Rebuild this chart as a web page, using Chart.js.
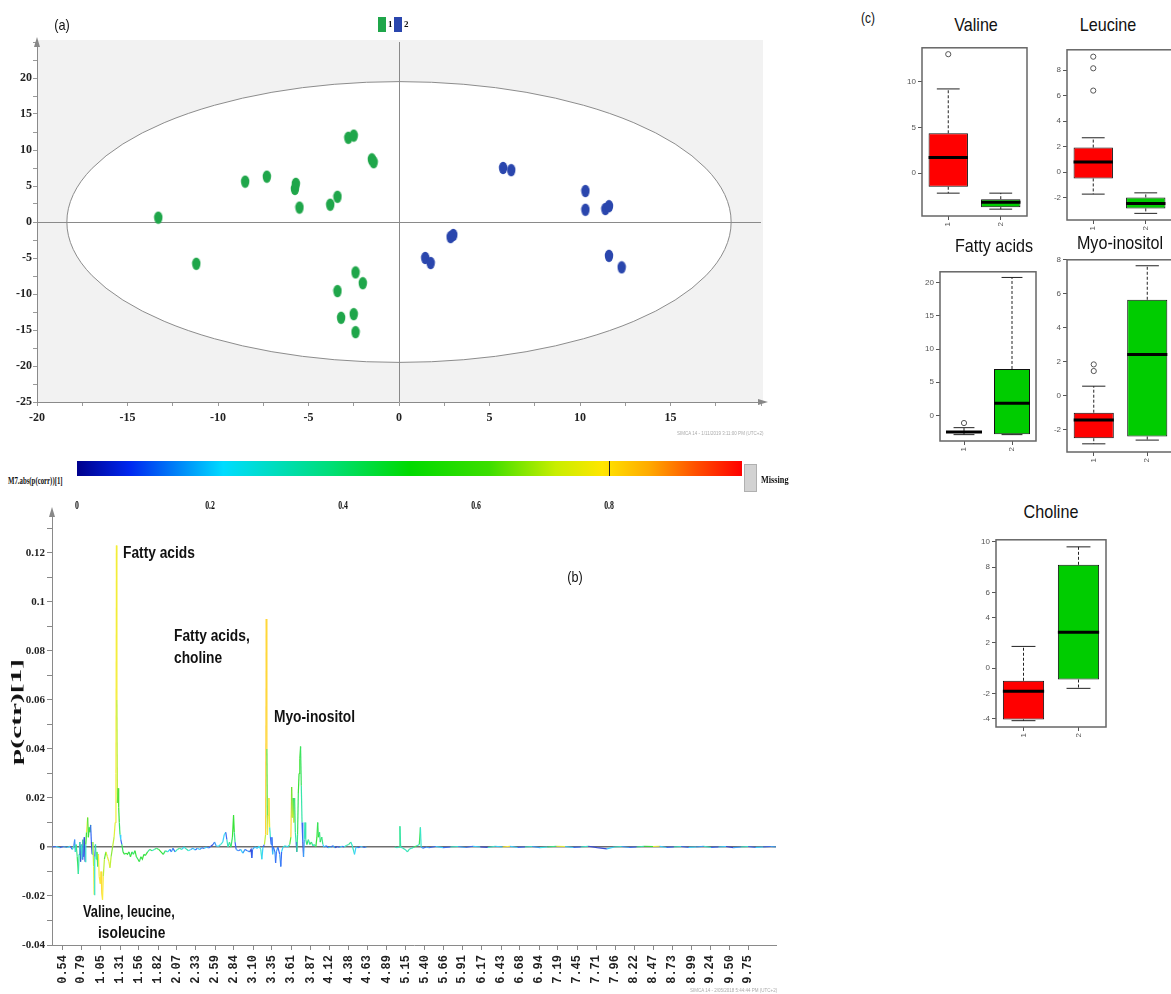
<!DOCTYPE html>
<html><head><meta charset="utf-8">
<script src="https://cdn.jsdelivr.net/npm/chart.js@4.4.1/dist/chart.umd.min.js"></script>
<style>
html,body{margin:0;padding:0;background:#fff;}
body{width:1171px;height:994px;overflow:hidden;position:relative;}
canvas{position:absolute;}
.t{position:absolute;white-space:nowrap;line-height:1;color:#111;}
.c{transform:translate(-50%,-50%) scaleX(var(--s,1));}
.l{transform-origin:0 50%;transform:translateY(-50%) scaleX(var(--s,1));}
.sans{font-family:'Liberation Sans',Arial,sans-serif;}
.bs{font-family:'Liberation Sans',Arial,sans-serif;font-weight:bold;}
.serif{font-family:'Liberation Serif','Times New Roman',serif;font-weight:bold;}
</style></head><body>
<canvas id="ca" width="780" height="440" style="left:0;top:0"></canvas>
<canvas id="cb" width="800" height="494" style="left:0;top:500px"></canvas>
<canvas id="bValine"></canvas>
<canvas id="bLeucine"></canvas>
<canvas id="bFatty"></canvas>
<canvas id="bMyo"></canvas>
<canvas id="bCholine"></canvas>

<div class="t c sans" style="left:62px;top:24px;font-size:15px;--s:0.85">(a)</div>
<div style="position:absolute;left:378px;top:17px;width:8px;height:15px;background:#1fa64a"></div>
<div class="t l serif" style="left:388px;top:24px;font-size:9px">1</div>
<div style="position:absolute;left:394px;top:17px;width:8px;height:15px;background:#2a46ad"></div>
<div class="t l serif" style="left:404px;top:24px;font-size:9px">2</div>
<div class="t l sans" style="left:677px;top:433px;font-size:6px;color:#aaa;--s:0.75">SIMCA 14 - 1/11/2019 3:11:00 PM (UTC+2)</div>

<div class="t c sans" style="left:868px;top:18px;font-size:14px;--s:0.85">(c)</div>
<div class="t c sans" style="left:976px;top:24px;font-size:19px;--s:0.85">Valine</div>
<div class="t c sans" style="left:1108px;top:24px;font-size:19px;--s:0.85">Leucine</div>
<div class="t c sans" style="left:994px;top:245px;font-size:19px;--s:0.85">Fatty acids</div>
<div class="t c sans" style="left:1120px;top:242px;font-size:19px;--s:0.85">Myo-inositol</div>
<div class="t c sans" style="left:1051px;top:511px;font-size:19px;--s:0.85">Choline</div>

<div id="cbar" style="position:absolute;left:77px;top:461px;width:665px;height:15px"></div>
<div style="position:absolute;left:609px;top:461px;width:1px;height:15px;background:#222"></div>
<div style="position:absolute;left:744px;top:464px;width:13px;height:28px;background:#d2d2d2;border:1px solid #b0b0b0;box-sizing:border-box"></div>
<div class="t l serif" style="left:761px;top:479px;font-size:11px;--s:0.75">Missing</div>
<div class="t l serif" style="left:8px;top:481px;font-size:10px;--s:0.68">M7.abs(p(corr))[1]</div>
<div id="cbticks"></div>

<div class="t c sans" style="left:575px;top:577px;font-size:14px;--s:0.9">(b)</div>
<div class="t serif" style="left:17px;top:712px;font-size:14px;transform:translate(-50%,-50%) rotate(-90deg) scaleX(2.1)">p(ctr)[1]</div>
<div class="t l bs" style="left:123px;top:553px;font-size:16px;--s:0.86">Fatty acids</div>
<div class="t l bs" style="left:174px;top:636px;font-size:16px;--s:0.86">Fatty acids,</div>
<div class="t l bs" style="left:174px;top:658px;font-size:16px;--s:0.86">choline</div>
<div class="t l bs" style="left:274px;top:717px;font-size:16px;--s:0.86">Myo-inositol</div>
<div class="t l bs" style="left:83px;top:912px;font-size:16px;--s:0.8">Valine, leucine,</div>
<div class="t l bs" style="left:98px;top:933px;font-size:16px;--s:0.86">isoleucine</div>
<div class="t l sans" style="left:690px;top:990px;font-size:6px;color:#aaa;--s:0.75">SIMCA 14 - 2/05/2018 5:44:44 PM (UTC+2)</div>

<script>
// ================= DATA =================
// (a) OPLS-DA score plot
const group1X = [-13.3,-11.2,-8.5,-7.3,-5.75,-5.7,-5.5,-3.8,-3.4,-2.8,-2.5,-1.5,-1.4,-2.4,-2.0,-3.4,-3.2,-2.5,-2.4];
const group1Y = [0.6,-5.8,5.6,6.3,4.6,5.3,2.0,2.4,3.5,11.7,12.0,8.7,8.3,-7.0,-8.5,-9.6,-13.3,-12.8,-15.3];
const group2X = [5.75,6.2,10.3,10.3,11.4,11.6,11.6,12.3,2.85,3.0,1.45,1.75];
const group2Y = [7.5,7.2,4.3,1.7,1.8,2.2,-4.7,-6.3,-2.1,-1.8,-5.0,-5.7];
const ellipseAxes = [18.35, 19.5];
const scoreXLabels = ['-20','-15','-10','-5','0','5','10','15'];
const scoreYLabels = ['20','15','10','5','0','-5','-10','-15','-20','-25'];

// (b) colour bar + loading line plot
const colorbarLabels = ['0','0.2','0.4','0.6','0.8'];
const ppmLabels = ['0.54','0.79','1.05','1.31','1.56','1.82','2.07','2.33','2.59','2.84','3.10','3.35','3.61','3.87','4.12','4.38','4.63','4.89','5.15','5.40','5.66','5.91','6.17','6.43','6.68','6.94','7.19','7.45','7.71','7.96','8.22','8.47','8.73','8.99','9.24','9.50','9.75'];
const loadingYLabels = ['0.12','0.1','0.08','0.06','0.04','0.02','0','-0.02','-0.04'];

const spectrumPpm = [
0.40,0.45,0.50,0.55,0.60,0.64,0.67,0.69,0.70,0.71,
0.72,0.735,0.75,0.76,0.77,0.78,0.79,0.80,0.81,0.82,
0.83,0.84,0.85,0.86,0.875,0.885,0.895,0.905,0.915,0.925,
0.935,0.945,0.955,0.962,0.97,0.98,0.99,1.00,1.01,1.02,
1.03,1.045,1.055,1.065,1.075,1.085,1.10,1.12,1.14,1.16,
1.175,1.19,1.21,1.23,1.245,1.255,1.262,1.268,1.275,1.285,
1.292,1.30,1.31,1.32,1.335,1.35,1.37,1.39,1.41,1.43,
1.45,1.47,1.49,1.51,1.53,1.55,1.57,1.59,1.61,1.63,
1.65,1.68,1.71,1.74,1.77,1.80,1.83,1.86,1.89,1.92,
1.95,1.98,2.00,2.02,2.05,2.08,2.11,2.14,2.17,2.20,
2.23,2.26,2.29,2.32,2.35,2.38,2.41,2.44,2.47,2.50,
2.53,2.56,2.58,2.60,2.63,2.66,2.69,2.71,2.73,2.745,
2.76,2.78,2.80,2.82,2.835,2.845,2.855,2.87,2.90,2.93,
2.96,2.99,3.02,3.05,3.07,3.08,3.09,3.12,3.15,3.18,
3.20,3.215,3.23,3.25,3.265,3.275,3.283,3.29,3.30,3.31,
3.32,3.33,3.34,3.35,3.36,3.37,3.39,3.40,3.41,3.43,
3.455,3.47,3.48,3.50,3.53,3.56,3.59,3.605,3.615,3.625,
3.635,3.645,3.655,3.665,3.675,3.685,3.695,3.705,3.715,3.725,
3.735,3.745,3.755,3.765,3.775,3.785,3.795,3.805,3.82,3.84,
3.86,3.88,3.90,3.92,3.94,3.955,3.965,3.975,3.99,4.00,
4.02,4.035,4.05,4.08,4.11,4.14,4.17,4.20,4.23,4.26,
4.29,4.32,4.35,4.38,4.41,4.43,4.46,4.48,4.51,4.54,
4.57,4.60,4.62,4.80,5.00,5.03,5.06,5.07,5.08,5.11,
5.14,5.17,5.20,5.23,5.26,5.30,5.33,5.345,5.355,5.38,
5.42,5.46,5.55,5.65,5.75,5.85,5.95,6.05,6.15,6.25,
6.35,6.45,6.55,6.65,6.75,6.85,6.95,7.05,7.17,7.29,
7.40,7.50,7.60,7.72,7.85,7.95,8.05,8.15,8.25,8.35,
8.47,8.56,8.65,8.75,8.85,8.95,9.05,9.15,9.25,9.35,
9.45,9.55,9.65,9.75,9.85,9.95,10.05,10.12];
const spectrumValue = [
0,0.0002,-0.0003,0.0002,-0.0002,0.0003,-0.001,0.0005,0.003,-0.002,
0.001,-0.004,-0.011,-0.003,0.002,-0.006,0.001,-0.005,0.003,-0.004,
0.004,-0.006,0.001,0.006,0.012,0.004,0.008,0.006,0.009,0.002,
-0.003,0.002,-0.008,-0.0195,-0.004,0.001,-0.005,-0.002,-0.008,-0.003,
-0.012,-0.015,-0.01,-0.019,-0.0215,-0.012,-0.005,-0.002,-0.004,-0.006,
-0.0085,-0.004,0,0.004,0.010,0.03,0.123,0.06,0.018,0.024,
0.016,0.010,0.005,0.003,0.001,-0.002,-0.003,-0.0025,-0.003,-0.002,
-0.004,-0.002,-0.003,-0.0015,-0.004,-0.005,-0.006,-0.004,-0.005,-0.003,
-0.0035,-0.002,-0.001,-0.0015,-0.001,-0.0005,-0.001,-0.002,-0.003,-0.0015,
-0.002,-0.001,-0.002,-0.0005,-0.002,-0.001,-0.0005,-0.001,0,-0.0008,
-0.0015,-0.001,-0.0005,-0.0012,-0.0005,-0.001,-0.0003,-0.0006,0,-0.0004,
0.0003,0.001,0.002,0.0005,0.0002,0.001,0.002,0.005,0.006,0.003,
0,0.002,0,0.004,0.013,0.006,0.002,-0.001,-0.0015,-0.001,
-0.0025,-0.001,-0.0015,-0.002,-0.001,-0.0045,-0.001,0,-0.0005,0.0003,
-0.001,-0.005,0,0.001,0.005,0.093,0.04,0.005,0.013,0.02,
0.008,0.004,0.001,0.004,-0.003,0,-0.002,-0.0065,-0.002,0,
-0.003,-0.008,-0.002,0,0.0005,0,0.001,0.004,0.0245,0.012,
0.02,0.01,0.02,0.006,0.002,-0.002,0.005,0.022,0.03,0.036,
0.041,0.025,0.01,0.002,-0.004,0.003,0.01,0.003,0.001,0.003,
0.001,0.002,0.0005,0.001,0,0.004,0.010,0.004,0.006,0.002,
0.004,0.001,0,0.0005,-0.0003,0,0.0005,-0.0003,0.0002,-0.0002,
0.0003,0,0.0006,0.001,0.002,0.0005,-0.003,0,-0.0003,0.0002,
0,-0.0002,0,null,0,-0.0003,0,0.0085,0,-0.0005,
-0.001,-0.002,-0.0008,-0.0005,0,0.0005,0.001,0.008,0,-0.0005,
0,-0.0003,0.0002,-0.0003,0,0.0002,-0.0002,0.0003,0,-0.0002,
0.0003,0,0.0003,-0.0002,0,0.0002,-0.0003,0,0.0003,0.0002,
-0.0002,0,0.0003,-0.0003,-0.0008,0,0.0002,-0.0002,0,0.0003,
0.0002,0.0003,-0.0002,0,0.0002,-0.0002,0,0.0003,-0.0002,0,
0.0002,-0.0003,0,0.0002,-0.0002,0,0.0002,0];
const spectrumCorr = [
0.15,0.1,0.2,0.1,0.15,0.2,0.1,0.3,0.1,0.15,
0.3,0.4,0.45,0.35,0.1,0.35,0.05,0.3,0.1,0.4,
0.1,0.05,0.3,0.5,0.75,0.55,0.5,0.45,0.5,0.1,
0.05,0.3,0.7,0.76,0.3,0.1,0.35,0.3,0.6,0.4,
0.78,0.8,0.78,0.82,0.82,0.78,0.7,0.6,0.72,0.75,
0.76,0.7,0.65,0.7,0.74,0.77,0.78,0.77,0.7,0.6,
0.55,0.5,0.45,0.2,0.1,0.45,0.5,0.45,0.5,0.5,
0.45,0.5,0.4,0.45,0.5,0.45,0.5,0.45,0.5,0.5,
0.45,0.5,0.4,0.45,0.3,0.4,0.45,0.5,0.5,0.45,
0.35,0.2,0.1,0.15,0.1,0.3,0.4,0.35,0.2,0.3,
0.35,0.25,0.15,0.2,0.1,0.2,0.15,0.1,0.2,0.15,
0.1,0.05,0.1,0.15,0.2,0.25,0.3,0.2,0.25,0.1,
0.3,0.35,0.4,0.45,0.5,0.5,0.4,0.1,0.15,0.1,
0.2,0.15,0.1,0.15,0.05,0.05,0.1,0.15,0.2,0.2,
0.25,0.3,0.2,0.1,0.7,0.83,0.82,0.6,0.8,0.83,
0.75,0.3,0.1,0.15,0.1,0.2,0.1,0.15,0.1,0.15,
0.1,0.15,0.1,0.2,0.3,0.2,0.3,0.6,0.82,0.6,
0.7,0.45,0.78,0.4,0.35,0.1,0.4,0.45,0.5,0.52,
0.5,0.45,0.35,0.1,0.05,0.15,0.3,0.35,0.4,0.45,
0.35,0.45,0.4,0.3,0.35,0.5,0.5,0.45,0.5,0.4,
0.45,0.4,0.2,0.15,0.1,0.2,0.1,0.15,0.05,0.1,
0.2,0.1,0.3,0.35,0.4,0.3,0.3,0.2,0.15,0.1,
0.2,0.1,0.15,0.15,0.3,0.35,0.3,0.4,0.35,0.3,
0.35,0.3,0.35,0.3,0.35,0.45,0.3,0.45,0.3,0.15,
0.1,0.15,0.1,0.2,0.1,0.3,0.15,0.1,0.2,0.05,
0.3,0.2,0.78,0.2,0.1,0.3,0.15,0.25,0.4,0.75,
0.2,0.1,0.3,0.05,0.05,0.2,0.3,0.15,0.1,0.35,
0.5,0.75,0.2,0.1,0.3,0.1,0.2,0.15,0.3,0.1,
0.2,0.05,0.15,0.3,0.1,0.2,0.1,0.15];

// (c) box plots: each group = [lower whisker, Q1, median, Q3, upper whisker]
const boxGroups = ['1','2'];
const valineStats = [[-2.2,-1.5,1.7,4.35,9.2],[-3.95,-3.73,-3.2,-2.86,-2.2]];
const valineOutliers = [[13.0],[]];
const valineTicks = [0,5,10];
const leucineStats = [[-1.72,-0.49,0.8,1.93,2.7],[-3.23,-2.84,-2.45,-1.98,-1.62]];
const leucineOutliers = [[9.06,8.15,6.4],[]];
const leucineTicks = [-2,0,2,4,6,8];
const fattyStats = [[-2.9,-2.66,-2.5,-2.36,-1.85],[-2.9,-2.86,1.85,7.0,20.8]];
const fattyOutliers = [[-1.15],[]];
const fattyTicks = [0,5,10,15,20];
const myoStats = [[-2.82,-2.49,-1.42,-0.99,0.57],[-2.6,-2.39,2.43,5.65,7.65]];
const myoOutliers = [[1.85,1.46],[]];
const myoTicks = [-2,0,2,4,6,8];
const cholineStats = [[-4.16,-4.06,-1.82,-1.0,1.72],[-1.6,-0.9,2.85,8.18,9.6]];
const cholineOutliers = [[],[]];
const cholineTicks = [-4,-2,0,2,4,6,8,10];

// ================= STYLE HELPERS =================
const SERIF = "'Liberation Serif','Times New Roman',serif";
const SANS = "'Liberation Sans',Arial,sans-serif";
const cStops = [[0,[0,0,140]],[0.08,[0,40,240]],[0.22,[0,220,255]],[0.38,[0,222,120]],[0.5,[0,218,0]],[0.62,[60,222,0]],[0.72,[200,238,0]],[0.79,[255,230,0]],[0.86,[255,170,0]],[0.93,[255,80,0]],[1,[255,0,0]]];
function cmapRGB(v){
  v = Math.max(0, Math.min(1, v));
  for (let i = 1; i < cStops.length; i++) {
    if (v <= cStops[i][0]) {
      const a = cStops[i-1], b = cStops[i], f = (v - a[0]) / (b[0] - a[0]);
      return a[1].map((x, k) => x + (b[1][k] - x) * f);
    }
  }
  return [255,0,0];
}
// line colours: colour-bar colour slightly washed out, as in the rendered spectrum
function lineColor(v){
  const c = cmapRGB(v).map(x => Math.round(x * 0.78 + 255 * 0.22));
  return 'rgb(' + c.join(',') + ')';
}
document.getElementById('cbar').style.background =
  'linear-gradient(to right,' + cStops.map(s => 'rgb(' + s[1].join(',') + ') ' + (s[0]*100) + '%').join(',') + ')';
const cbt = document.getElementById('cbticks');
colorbarLabels.forEach(l => {
  const d = document.createElement('div');
  d.className = 't c serif';
  d.style.cssText = 'left:' + (77.3 + parseFloat(l) * 664.5) + 'px;top:505px;font-size:12px;--s:0.65';
  d.textContent = l;
  cbt.appendChild(d);
});
function stepTicks(a, b, s){ const r = []; for (let k = 0; a + k*s <= b + 1e-9; k++) r.push({value: a + k*s}); return r; }
function arrowUp(ctx, x, y){ ctx.beginPath(); ctx.moveTo(x, y-9); ctx.lineTo(x-3, y+1); ctx.lineTo(x+3, y+1); ctx.closePath(); ctx.fill(); }
function arrowRight(ctx, x, y){ ctx.beginPath(); ctx.moveTo(x+9, y); ctx.lineTo(x-1, y-3); ctx.lineTo(x-1, y+3); ctx.closePath(); ctx.fill(); }
function ptImg(col){ const c = document.createElement('canvas'); c.width = 10; c.height = 14; const g = c.getContext('2d'); g.fillStyle = col; g.beginPath(); g.ellipse(5, 7, 4.2, 6.2, 0, 0, Math.PI*2); g.fill(); return c; }

// ================= (a) SCORE PLOT =================
const scoreBg = {
  id: 'scoreBg',
  beforeDraw(chart){
    const {ctx, chartArea: a, scales: {x, y}} = chart;
    ctx.save();
    ctx.fillStyle = '#f2f2f2';
    ctx.fillRect(a.left, a.top - 2, a.right - a.left + 2, a.bottom - a.top + 2);
    const cx = x.getPixelForValue(0), cy = y.getPixelForValue(0);
    const rx = x.getPixelForValue(ellipseAxes[0]) - cx, ry = cy - y.getPixelForValue(ellipseAxes[1]);
    ctx.beginPath(); ctx.ellipse(cx, cy, rx, ry, 0, 0, Math.PI*2);
    ctx.fillStyle = '#fff'; ctx.fill();
    ctx.strokeStyle = '#8c8c8c'; ctx.lineWidth = 1; ctx.stroke();
    ctx.restore();
  },
  afterDraw(chart){
    const {ctx, chartArea: a} = chart;
    ctx.save(); ctx.fillStyle = '#888';
    arrowUp(ctx, a.left, a.top + 4); arrowRight(ctx, a.right - 2, a.bottom);
    ctx.restore();
  }
};
new Chart(document.getElementById('ca'), {
  type: 'scatter',
  data: { datasets: [
    { label: '1', data: group1X.map((x, i) => ({x, y: group1Y[i]})), pointStyle: ptImg('#1fa64a'), pointRadius: 6 },
    { label: '2', data: group2X.map((x, i) => ({x, y: group2Y[i]})), pointStyle: ptImg('#2a46ad'), pointRadius: 6 }
  ]},
  options: {
    responsive: false, animation: false, events: [],
    layout: { padding: { top: 42, right: 19, left: 0, bottom: 0 } },
    plugins: { legend: { display: false }, tooltip: { enabled: false } },
    scales: {
      x: { type: 'linear', min: -20, max: 20,
        afterBuildTicks: s => { s.ticks = stepTicks(-20, 20, 2.5); },
        afterFit: s => { s.height = 38; },
        ticks: { autoSkip: false, maxRotation: 0, padding: 5, color: '#222',
          font: { family: SERIF, weight: 'bold', size: 12 },
          callback: v => scoreXLabels.includes(String(v)) ? String(v) : '' },
        grid: { color: c => (c.tick && c.tick.value === 0) ? '#8a8a8a' : 'rgba(0,0,0,0)', tickColor: '#999', tickLength: 4 },
        border: { color: '#8a8a8a' } },
      y: { type: 'linear', min: -25, max: 25,
        afterBuildTicks: s => { s.ticks = stepTicks(-25, 25, 2.5); },
        afterFit: s => { s.width = 37; },
        ticks: { autoSkip: false, padding: 1, color: '#222',
          font: { family: SERIF, weight: 'bold', size: 12 },
          callback: v => scoreYLabels.includes(String(v)) ? String(v) : '' },
        grid: { color: c => (c.tick && c.tick.value === 0) ? '#8a8a8a' : 'rgba(0,0,0,0)', tickColor: '#999', tickLength: 4 },
        border: { color: '#8a8a8a' } }
    }
  },
  plugins: [scoreBg]
});

// ================= (b) LOADING LINE PLOT =================
const loadArrow = {
  id: 'loadArrow',
  afterDraw(chart){
    const {ctx, chartArea: a} = chart;
    ctx.save(); ctx.fillStyle = '#888'; arrowUp(ctx, a.left, a.top + 4); ctx.restore();
  }
};
new Chart(document.getElementById('cb'), {
  type: 'line',
  data: { datasets: [{
    data: spectrumPpm.map((x, i) => ({x, y: spectrumValue[i]})),
    borderWidth: 1.2, pointRadius: 0, tension: 0, spanGaps: false, borderColor: '#3c3',
    segment: { borderColor: c => lineColor(spectrumCorr[c.p1DataIndex]) }
  }]},
  options: {
    responsive: false, animation: false, events: [],
    layout: { padding: { top: 12, right: 24, left: 0, bottom: 0 } },
    plugins: { legend: { display: false }, tooltip: { enabled: false } },
    scales: {
      x: { type: 'linear', min: 0.396, max: 10.122,
        afterBuildTicks: s => { s.ticks = ppmLabels.map(l => ({value: parseFloat(l)})); },
        afterFit: s => { s.height = 49; },
        ticks: { autoSkip: false, minRotation: 90, maxRotation: 90, padding: 5, color: '#222',
          font: { family: "'Liberation Mono',monospace", weight: 'bold', size: 12 },
          callback: (v, i) => ppmLabels[i] },
        grid: { drawOnChartArea: false, tickLength: 5, tickColor: '#888' },
        border: { color: '#8a8a8a' } },
      y: { type: 'linear', min: -0.04, max: 0.1367,
        afterBuildTicks: s => { s.ticks = stepTicks(-4, 13, 1).map(t => ({value: t.value / 100})); },
        afterFit: s => { s.width = 52; },
        ticks: { autoSkip: false, padding: 2, color: '#222',
          font: { family: SERIF, weight: 'bold', size: 11 },
          callback: v => { const m = loadingYLabels.find(l => Math.abs(parseFloat(l) - v) < 1e-9); return m === undefined ? '' : m; } },
        grid: { color: c => (c.tick && Math.abs(c.tick.value) < 1e-9) ? '#6e6e6e' : 'rgba(0,0,0,0)',
                lineWidth: c => (c.tick && Math.abs(c.tick.value) < 1e-9) ? 1.5 : 1, tickColor: '#888', tickLength: 5 },
        border: { color: '#8a8a8a' } }
    }
  },
  plugins: [loadArrow]
});

// ================= (c) BOX PLOTS =================
function boxDecor(stats){
  return { id: 'boxDecor', afterDatasetsDraw(chart){
    const ctx = chart.ctx, y = chart.scales.y, meta = chart.getDatasetMeta(0);
    const py = v => y.getPixelForValue(v);
    ctx.save();
    stats.forEach((s, i) => {
      const el = meta.data[i], cx = el.x, w = el.width;
      ctx.strokeStyle = '#222'; ctx.lineWidth = 1; ctx.setLineDash([3, 2]);
      ctx.beginPath();
      ctx.moveTo(cx, py(s[3])); ctx.lineTo(cx, py(s[4]));
      ctx.moveTo(cx, py(s[1])); ctx.lineTo(cx, py(s[0]));
      ctx.stroke();
      ctx.setLineDash([]);
      ctx.beginPath();
      ctx.moveTo(cx - w*0.29, py(s[4])); ctx.lineTo(cx + w*0.29, py(s[4]));
      ctx.moveTo(cx - w*0.29, py(s[0])); ctx.lineTo(cx + w*0.29, py(s[0]));
      ctx.stroke();
      ctx.lineWidth = 3; ctx.strokeStyle = '#000';
      ctx.beginPath(); ctx.moveTo(cx - w/2, py(s[2])); ctx.lineTo(cx + w/2, py(s[2])); ctx.stroke();
    });
    const a = chart.chartArea;
    ctx.strokeStyle = '#666'; ctx.lineWidth = 1.5;
    ctx.strokeRect(a.left, a.top, a.right - a.left, a.bottom - a.top);
    ctx.restore();
  }};
}
function boxChart(id, frame, yMin, yMax, ticks, stats, outliers){
  const [L, T, R, B] = frame;
  const cv = document.getElementById(id);
  cv.width = R - L + 30; cv.height = B - T + 26;
  cv.style.left = (L - 26) + 'px'; cv.style.top = (T - 6) + 'px';
  const outPts = [];
  outliers.forEach((arr, i) => arr.forEach(v => outPts.push({x: boxGroups[i], y: v})));
  new Chart(cv, {
    type: 'bar',
    data: { labels: boxGroups, datasets: [
      { type: 'bar', data: stats.map(s => [s[1], s[3]]), backgroundColor: ['#ff0000', '#00cc00'],
        borderColor: '#111', borderWidth: 1, borderSkipped: false, barPercentage: 0.75, categoryPercentage: 1 },
      { type: 'scatter', data: outPts, pointStyle: 'circle', pointRadius: 2.6,
        borderColor: '#555', backgroundColor: 'rgba(0,0,0,0)', borderWidth: 1 }
    ]},
    options: {
      responsive: false, animation: false, events: [],
      layout: { padding: { top: 6, right: 4, left: 0, bottom: 0 } },
      plugins: { legend: { display: false }, tooltip: { enabled: false } },
      scales: {
        x: { type: 'category', offset: true,
          afterFit: s => { s.height = 20; },
          ticks: { font: { size: 8, family: SANS }, color: '#555', minRotation: 90, maxRotation: 90, padding: 2 },
          grid: { offset: false, drawOnChartArea: false, tickLength: 4, tickColor: '#555' },
          border: { display: false } },
        y: { min: yMin, max: yMax,
          afterBuildTicks: s => { s.ticks = ticks.map(v => ({value: v})); },
          afterFit: s => { s.width = 26; },
          ticks: { font: { size: 8, family: SANS }, color: '#555', padding: 2, callback: v => String(v) },
          grid: { drawOnChartArea: false, tickLength: 4, tickColor: '#555' },
          border: { display: false } }
      }
    },
    plugins: [boxDecor(stats)]
  });
}
boxChart('bValine',  [922, 47, 1028, 216],  -4.7, 13.7,  valineTicks,  valineStats,  valineOutliers);
boxChart('bLeucine', [1067, 49, 1173, 220], -3.75, 9.6,  leucineTicks, leucineStats, leucineOutliers);
boxChart('bFatty',   [940, 271, 1037, 441], -3.86, 21.65, fattyTicks,  fattyStats,   fattyOutliers);
boxChart('bMyo',     [1067, 259, 1175, 452], -3.3, 8.0,  myoTicks,     myoStats,     myoOutliers);
boxChart('bCholine', [996, 539, 1106, 727], -4.66, 10.16, cholineTicks, cholineStats, cholineOutliers);
</script>
</body></html>
